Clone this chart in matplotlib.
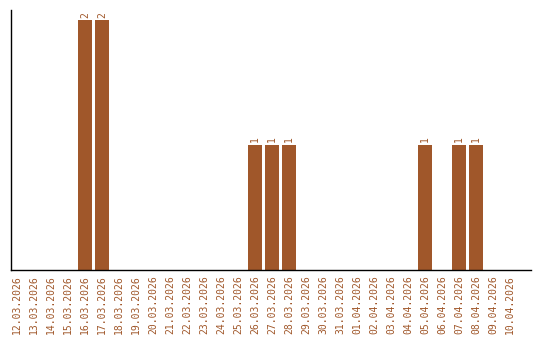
import matplotlib
matplotlib.use("Agg")
import matplotlib.pyplot as plt

# daty i liczby zdarzen
dates = ["12.03.2026", "13.03.2026", "14.03.2026", "15.03.2026", "16.03.2026",
         "17.03.2026", "18.03.2026", "19.03.2026", "20.03.2026", "21.03.2026",
         "22.03.2026", "23.03.2026", "24.03.2026", "25.03.2026", "26.03.2026",
         "27.03.2026", "28.03.2026", "29.03.2026", "30.03.2026", "31.03.2026",
         "01.04.2026", "02.04.2026", "03.04.2026", "04.04.2026", "05.04.2026",
         "06.04.2026", "07.04.2026", "08.04.2026", "09.04.2026", "10.04.2026"]
counts = [0, 0, 0, 0, 2, 2, 0, 0, 0, 0, 0, 0, 0, 0, 1,
          1, 1, 0, 0, 0, 0, 0, 0, 0, 1, 0, 1, 1, 0, 0]

brown = "#A0572A"

fig = plt.figure(figsize=(5.4, 3.4), dpi=100)
ax = fig.add_axes([11/540, 1 - 270/340, 520/540, 260/340])

x = list(range(len(dates)))
ax.bar(x, counts, width=0.82, color=brown)

for xi, c in zip(x, counts):
    if c > 0:
        ax.text(xi, c + 0.02, str(c), rotation=90, ha="center", va="bottom",
                color=brown, fontsize=7, family="DejaVu Sans Mono")

ax.set_xlim(-0.35, 30.24)
ax.set_ylim(0, 2.08)
ax.set_xticks(x)
ax.set_xticklabels(dates, rotation=90, color=brown, fontsize=7, family="DejaVu Sans Mono")
ax.set_yticks([])
ax.tick_params(axis="x", length=0, pad=4)

for s in ["top", "right"]:
    ax.spines[s].set_visible(False)
for s in ["left", "bottom"]:
    ax.spines[s].set_color("black")
    ax.spines[s].set_linewidth(1)

fig.savefig("out.png", dpi=100)
